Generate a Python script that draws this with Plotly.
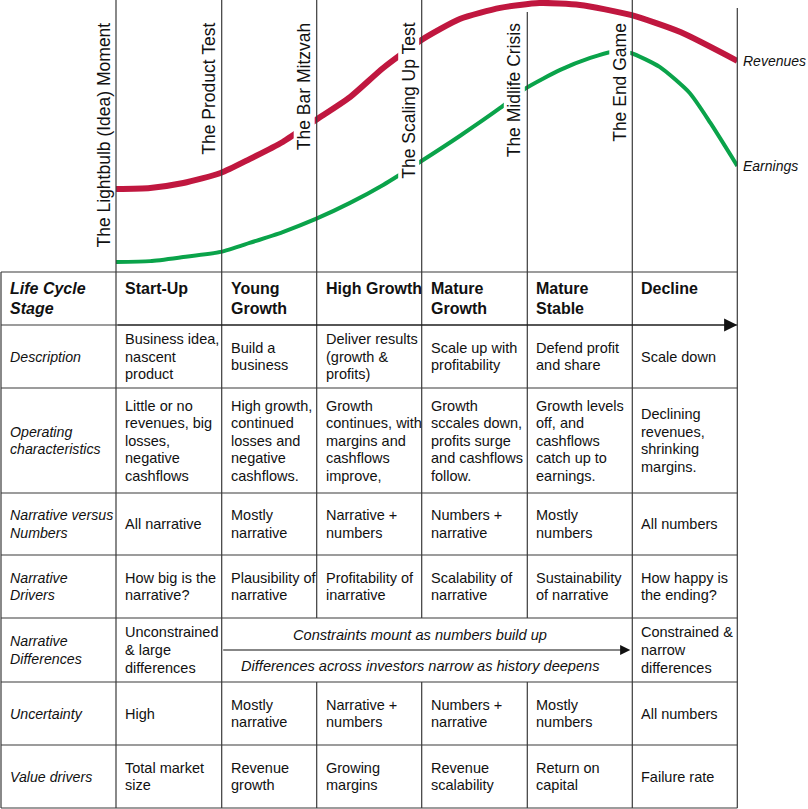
import plotly.graph_objects as go

# life cycle curves: time in stages (0-6), value as share of the chart height
rev_time = [0, 0.33, 0.65, 1.01, 1.29, 1.61, 1.93, 2.26, 2.58, 2.95, 3.32, 3.71, 4.09, 4.48, 4.97, 5.45, 6.0]
rev_value = [30.5, 30.9, 32.7, 36.4, 41.5, 47.8, 55.9, 64.3, 75.0, 85.3, 93.0, 97.1, 98.9, 98.2, 94.5, 88.2, 77.6]
earn_time = [0, 0.33, 0.65, 1.01, 1.29, 1.61, 1.93, 2.26, 2.58, 2.95, 3.32, 3.71, 3.96, 4.29, 4.58, 4.79, 4.97,
             5.25, 5.54, 5.74, 6.0]
earn_value = [3.7, 4.0, 5.5, 7.4, 10.7, 14.7, 19.5, 25.4, 32.0, 40.8, 50.0, 60.3, 67.6, 74.3, 78.7, 80.9, 80.5,
              75.4, 65.8, 54.8, 39.0]

milestones = ["The Lightbulb (Idea) Moment", "The Product Test", "The Bar Mitzvah",
              "The Scaling Up Test", "The Midlife Crisis", "The End Game"]

row_labels = ["Description", "Operating|characteristics", "Narrative versus|Numbers",
              "Narrative|Drivers", "Narrative|Differences", "Uncertainty", "Value drivers"]
stages = ["Start-Up", "Young|Growth", "High Growth", "Mature|Growth", "Mature|Stable", "Decline"]
description = ["Business idea,|nascent|product", "Build a|business", "Deliver results|(growth &|profits)",
               "Scale up with|profitability", "Defend profit|and share", "Scale down"]
operating = ["Little or no|revenues, big|losses,|negative|cashflows",
             "High growth,|continued|losses and|negative|cashflows.",
             "Growth|continues, with|margins and|cashflows|improve,",
             "Growth|sccales down,|profits surge|and cashflows|follow.",
             "Growth levels|off, and|cashflows|catch up to|earnings.",
             "Declining|revenues,|shrinking|margins."]
narr_vs_num = ["All narrative", "Mostly|narrative", "Narrative +|numbers", "Numbers +|narrative",
               "Mostly|numbers", "All numbers"]
narr_drivers = ["How big is the|narrative?", "Plausibility of|narrative", "Profitability of|inarrative",
                "Scalability of|narrative", "Sustainability|of narrative", "How happy is|the ending?"]
narr_diff = ["Unconstrained|& large|differences", None, None, None, None, "Constrained &|narrow|differences"]
narr_diff_notes = ["Constraints mount as numbers build up",
                   "Differences across investors narrow as history deepens"]
uncertainty = ["High", "Mostly|narrative", "Narrative +|numbers", "Numbers +|narrative",
               "Mostly|numbers", "All numbers"]
value_drivers = ["Total market|size", "Revenue|growth", "Growing|margins", "Revenue|scalability",
                 "Return on|capital", "Failure rate"]
rows = [description, operating, narr_vs_num, narr_drivers, narr_diff, uncertainty, value_drivers]

# page layout (pixels)
W, H = 808, 809
col_x = [1, 116, 221.7, 316.7, 421.7, 527.3, 632.3, 737.3]
row_y = [272, 325, 388, 493, 555, 618, 682, 745, 808]
line_top = [0, 0, 0, 0, 12, 0, 8]
FONT = "Liberation Sans, Arial, sans-serif"
INK = "#111111"
GRID = "#3a3a3a"
LINE_H = 17.5

fig = go.Figure()

fig.add_trace(go.Scatter(x=rev_time, y=rev_value, mode="lines", xaxis="x2", yaxis="y2",
                         line=dict(color="#c0173f", width=6, shape="spline", smoothing=0.6),
                         hoverinfo="skip", showlegend=False))
fig.add_trace(go.Scatter(x=earn_time, y=earn_value, mode="lines", xaxis="x2", yaxis="y2",
                         line=dict(color="#0aa34a", width=4, shape="spline", smoothing=0.6),
                         hoverinfo="skip", showlegend=False))

shapes = []
annotations = []


def hline(x0, x1, y):
    shapes.append(dict(type="line", xref="x", yref="y", x0=x0, x1=x1, y0=y, y1=y,
                       line=dict(color=GRID, width=1.2)))


def vline(x, y0, y1):
    shapes.append(dict(type="line", xref="x", yref="y", x0=x, x1=x, y0=y0, y1=y1,
                       line=dict(color=GRID, width=1.2)))


def cell_text(text, x, yc, size=14.5, fmt="{}", spacing=LINE_H):
    parts = text.split("|")
    n = len(parts)
    for i, p in enumerate(parts):
        annotations.append(dict(xref="x", yref="y", x=x, y=yc + (i - (n - 1) / 2) * spacing,
                                text=fmt.format(p), showarrow=False, xanchor="left",
                                yanchor="middle", font=dict(family=FONT, size=size, color=INK)))


# grid
for y in row_y:
    hline(col_x[0], col_x[-1], y)
vline(col_x[0], row_y[0], row_y[-1])
for j, x in enumerate(col_x[1:]):
    if j in (2, 3, 4):
        vline(x, line_top[j], row_y[5])
        vline(x, row_y[6], row_y[-1])
    else:
        vline(x, line_top[j], row_y[-1])

# header row
cell_text("Life Cycle|Stage", col_x[0] + 7, 298, size=16, fmt="<b><i>{}</i></b>", spacing=20)
for j, s in enumerate(stages):
    n = len(s.split("|"))
    cell_text(s, col_x[j + 1] + 7, 288 + (n - 1) * 10, size=16, fmt="<b>{}</b>", spacing=20)

# body rows
for i, (lab, row) in enumerate(zip(row_labels, rows)):
    yc = (row_y[i + 1] + row_y[i + 2]) / 2
    cell_text(lab, col_x[0] + 7, yc, size=14.2, fmt="<i>{}</i>")
    for j, t in enumerate(row):
        if t:
            cell_text(t, col_x[j + 1] + 7, yc, spacing=18 if i == 4 else LINE_H)

# merged narrative differences cell
yc = (row_y[5] + row_y[6]) / 2
for k, note in enumerate(narr_diff_notes):
    annotations.append(dict(xref="x", yref="y", x=420, y=yc + (k * 2 - 1) * 15.5, text="<i>%s</i>" % note,
                            showarrow=False, xanchor="center", yanchor="middle",
                            font=dict(family=FONT, size=14.6, color=INK)))
arrow = dict(xref="x", yref="y", axref="x", ayref="y", text="", showarrow=True,
             arrowhead=2, arrowwidth=1.2, arrowcolor=INK)
annotations.append(dict(arrow, x=col_x[6] - 2, y=yc, ax=col_x[2], ay=yc, arrowsize=1.7))
annotations.append(dict(arrow, x=col_x[7], y=row_y[1], ax=col_x[1], ay=row_y[1], arrowsize=2.2))

# milestone labels
for j, m in enumerate(milestones):
    annotations.append(dict(xref="x", yref="y", x=col_x[j + 1] - 2, y=22, text=m, textangle=-90,
                            showarrow=False, xanchor="right", yanchor="top", bgcolor="white",
                            borderpad=0, font=dict(family=FONT, size=17.5, color=INK)))

# curve labels
for name, val in (("Revenues", rev_value[-1]), ("Earnings", earn_value[-1])):
    annotations.append(dict(xref="x2", yref="y2", x=rev_time[-1], y=val, text="<i>%s</i>" % name,
                            showarrow=False, xanchor="left", yanchor="middle", xshift=4,
                            font=dict(family=FONT, size=14, color=INK)))

hidden = dict(visible=False, showgrid=False, zeroline=False, fixedrange=True)
fig.update_layout(
    width=W, height=H,
    margin=dict(l=0, r=0, t=0, b=0),
    paper_bgcolor="white", plot_bgcolor="white",
    xaxis=dict(hidden, range=[0, W], domain=[0, 1]),
    yaxis=dict(hidden, range=[H, 0], domain=[0, 1]),
    xaxis2=dict(hidden, range=[0, 6], domain=[col_x[1] / W, col_x[-1] / W], anchor="y2"),
    yaxis2=dict(hidden, range=[0, 100], domain=[1 - row_y[0] / H, 1], anchor="x2"),
    shapes=shapes,
    annotations=annotations,
    showlegend=False,
)

# the page body has a default 8px margin; drop it so the figure fills the window
fig.write_html("out.html", config={"displayModeBar": False},
               post_script="document.body.style.margin='0';document.body.style.overflow='hidden';")
